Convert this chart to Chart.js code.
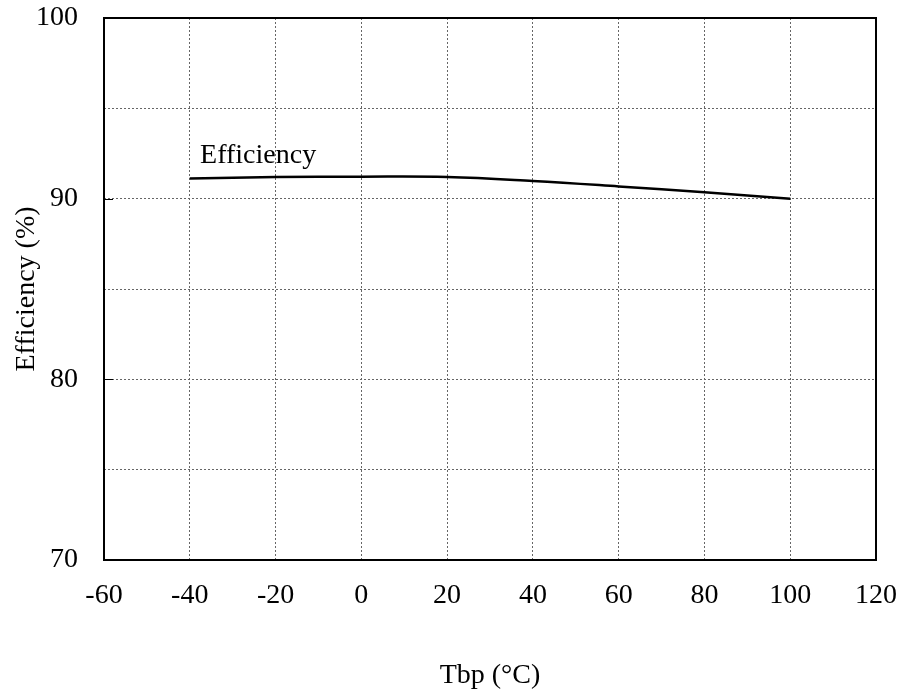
<!DOCTYPE html>
<html>
<head>
<meta charset="utf-8">
<script src="https://cdn.jsdelivr.net/npm/chart.js@4/dist/chart.umd.min.js"></script>
<style>
  html, body { margin: 0; padding: 0; background: #fff; }
  #box { width: 900px; height: 697px; }
</style>
</head>
<body>
<div id="box"><canvas id="grafico" width="900" height="697"></canvas></div>
<script>
// ================= DADOS =================
const temperaturas = [-40, -20, 0, 20, 40, 60, 80, 100];
const eficiencia = [91.12, 91.2, 91.22, 91.2, 90.98, 90.68, 90.35, 90.0];

const nomeSerie = "Efficiency";
const rotuloX = -37.6;   // posição do texto da série (em °C)
const rotuloY = 92.0;    // posição do texto da série (em %)

const tituloX = "Tbp (°C)";
const tituloY = "Efficiency (%)";
// =========================================

const fonte = "'Liberation Serif', 'Times New Roman', serif";

// zera o espaço extra que o Chart.js reserva para os rótulos das pontas
function semSobra(s) {
  s.paddingTop = 0;
  s.paddingBottom = 0;
  s.paddingLeft = 0;
  s.paddingRight = 0;
}

// moldura do gráfico + marcas internas + texto da série
const moldura = {
  id: "moldura",
  afterDatasetsDraw(chart) {
    const { ctx, chartArea: a, scales } = chart;
    ctx.save();
    ctx.strokeStyle = "#000";
    ctx.lineWidth = 2;
    ctx.strokeRect(a.left, a.top, a.right - a.left, a.bottom - a.top);

    // marcas nos valores principais do eixo Y
    ctx.lineWidth = 1;
    ctx.beginPath();
    [80, 90].forEach(v => {
      const y = Math.round(scales.y.getPixelForValue(v)) + 0.5;
      ctx.moveTo(a.left, y);
      ctx.lineTo(a.left + 9, y);
    });
    ctx.stroke();

    ctx.fillStyle = "#000";
    ctx.font = "28px " + fonte;
    ctx.textAlign = "left";
    ctx.textBaseline = "alphabetic";
    ctx.fillText(nomeSerie, scales.x.getPixelForValue(rotuloX), scales.y.getPixelForValue(rotuloY));
    ctx.restore();
  }
};

const grade = {
  color: "#666",
  lineWidth: 1,
  drawTicks: false
};

new Chart(document.getElementById("grafico").getContext("2d"), {
  type: "line",
  data: {
    datasets: [{
      label: nomeSerie,
      data: temperaturas.map((t, i) => ({ x: t, y: eficiencia[i] })),
      borderColor: "#000",
      borderWidth: 2.5,
      pointRadius: 0,
      tension: 0.4,
      fill: false
    }]
  },
  options: {
    responsive: false,
    animation: false,
    layout: { padding: { top: 18, right: 24, left: 0, bottom: 0 } },
    plugins: {
      legend: { display: false },
      tooltip: { enabled: false }
    },
    scales: {
      x: {
        type: "linear",
        min: -60,
        max: 120,
        afterFit(s) { s.height = 137; semSobra(s); },
        border: { display: false, dash: [2, 2] },
        grid: grade,
        ticks: {
          stepSize: 20,
          padding: 19,
          color: "#000",
          font: { family: fonte, size: 28 },
          maxRotation: 0
        },
        title: {
          display: true,
          text: tituloX,
          color: "#000",
          font: { family: fonte, size: 28 },
          padding: { top: 5, bottom: 5 }
        }
      },
      y: {
        min: 70,
        max: 100,
        afterFit(s) { s.width = 104; semSobra(s); },
        border: { display: false, dash: [2, 2] },
        grid: grade,
        ticks: {
          stepSize: 5,
          padding: 26,
          color: "#000",
          font: { family: fonte, size: 28 },
          callback: v => (v % 10 === 0 ? v : "")
        },
        title: {
          display: true,
          text: tituloY,
          color: "#000",
          font: { family: fonte, size: 28 },
          padding: { top: 10, bottom: 10 }
        }
      }
    }
  },
  plugins: [moldura]
});
</script>
</body>
</html>
